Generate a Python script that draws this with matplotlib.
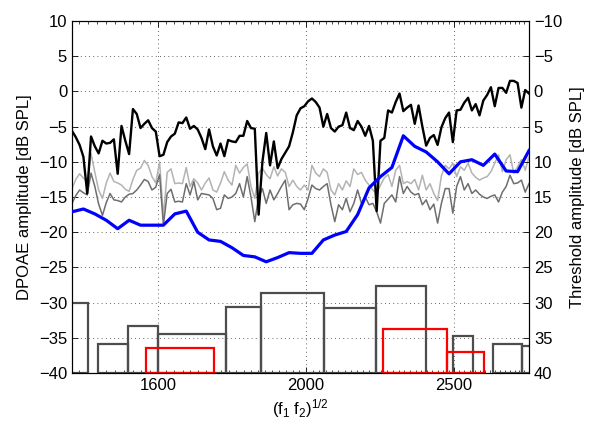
import numpy as np
import matplotlib.pyplot as plt
from matplotlib import ticker

plt.rcParams['font.family'] = ['Liberation Sans', 'DejaVu Sans']
plt.rcParams['font.size'] = 12
plt.rcParams['mathtext.fontset'] = 'custom'
plt.rcParams['mathtext.rm'] = 'Liberation Sans'
plt.rcParams['mathtext.it'] = 'Liberation Sans:italic'
plt.rcParams['mathtext.default'] = 'regular'

# measurement grid, geometric mean frequency (Hz)
freq = np.geomspace(1405, 2800, 121)

# DPOAE level (dB SPL)
dpoae = [-5.6, -6.5, -7.6, -9.3, -14.5, -6.4, -7.8, -8.8, -7.0, -7.4,
         -7.3, -6.8, -11.7, -4.9, -7.0, -8.9, -2.5, -3.2, -5.2, -4.6,
         -4.1, -5.2, -5.7, -9.2, -9.0, -7.2, -6.4, -6.0, -4.4, -4.5,
         -3.7, -5.3, -4.9, -5.4, -6.6, -8.2, -5.4, -7.8, -9.1, -7.4,
         -9.2, -6.9, -7.1, -7.2, -6.3, -6.3, -4.2, -5.2, -5.3, -17.5,
         -10.0, -5.9, -10.5, -7.1, -10.9, -9.6, -8.7, -7.8, -5.8, -3.4,
         -2.4, -2.1, -1.4, -1.0, -1.5, -2.3, -5.0, -3.2, -5.2, -5.7,
         -5.0, -4.8, -3.0, -5.2, -5.5, -4.2, -5.0, -6.3, -4.9, -7.0,
         -17.0, -7.0, -6.6, -2.7, -3.0, -1.5, -0.3, -2.8, -2.3, -1.9,
         -4.6, -2.0, -5.0, -7.7, -6.6, -6.2, -7.6, -5.1, -3.8, -3.0,
         -7.2, -2.7, -2.6, -1.6, -0.9, -2.7, -1.8, -3.4, -1.3, -0.5,
         0.6, -2.1, 0.5, 0.5, -0.2, 1.5, 1.5, 1.2, -2.3, 0.2,
         -0.3]

# noise floor, upper (light gray) and lower (dark gray)
noise_hi = [-13.8, -12.5, -11.7, -12.3, -12.8, -8.8, -11.5, -14.0, -15.2, -13.0,
            -11.6, -12.8, -13.0, -13.3, -13.9, -14.2, -12.5, -11.2, -10.9, -9.8,
            -10.5, -12.1, -13.0, -10.0, -17.8, -11.5, -11.0, -13.1, -13.0, -13.1,
            -10.8, -13.5, -12.4, -13.0, -14.0, -13.0, -12.3, -14.0, -14.3, -13.0,
            -11.4, -12.6, -13.3, -10.5, -11.6, -10.8, -10.3, -13.5, -15.2, -11.6,
            -10.9, -11.8, -12.4, -10.7, -12.0, -11.0, -11.5, -13.5, -12.6, -13.5,
            -14.0, -13.3, -14.0, -10.5, -11.6, -12.1, -11.0, -11.5, -14.0, -14.7,
            -13.1, -14.0, -12.7, -13.5, -11.0, -11.8, -11.5, -12.6, -13.3, -14.0,
            -14.5, -13.3, -12.3, -11.8, -13.5, -11.2, -10.5, -13.1, -12.8, -13.1,
            -12.5, -14.0, -11.9, -14.0, -13.1, -14.5, -15.5, -12.0, -10.5, -11.0,
            -10.2, -12.1, -10.7, -11.2, -10.2, -11.6, -12.2, -12.6, -12.3, -12.1,
            -11.4, -10.2, -9.0, -11.4, -9.7, -9.0, -11.6, -10.7, -9.7, -11.2,
            -9.3]
noise_lo = [-15.9, -14.8, -14.0, -14.4, -14.7, -11.6, -13.5, -16.0, -17.6, -15.8,
            -14.5, -15.4, -15.5, -15.7, -15.0, -14.6, -14.5, -14.0, -13.3, -12.5,
            -12.8, -14.0, -13.6, -11.8, -19.0, -14.5, -13.9, -15.7, -15.6, -15.7,
            -13.1, -14.7, -12.8, -15.4, -14.5, -14.6, -14.7, -15.2, -16.8, -16.6,
            -14.7, -15.2, -15.0, -14.5, -13.1, -15.0, -12.1, -15.0, -18.5, -15.0,
            -13.8, -15.9, -14.0, -15.4, -14.5, -13.5, -12.6, -16.8, -16.1, -15.9,
            -16.0, -16.8, -15.2, -13.3, -13.8, -14.0, -13.5, -13.1, -16.1, -18.5,
            -16.1, -16.8, -15.2, -17.1, -15.9, -14.0, -15.9, -15.0, -16.1, -15.9,
            -17.1, -18.7, -15.9, -15.3, -14.7, -15.7, -12.1, -14.5, -13.5, -14.3,
            -14.7, -14.5, -16.1, -15.4, -16.8, -16.0, -18.7, -15.9, -13.8, -13.8,
            -17.3, -13.5, -12.1, -14.0, -13.1, -14.5, -14.0, -14.6, -15.0, -15.2,
            -14.9, -14.7, -15.7, -14.3, -13.5, -11.9, -13.1, -13.0, -12.6, -14.3,
            -13.1]

# hearing threshold (dB SPL, right axis)
thr_freq = np.geomspace(1405, 2800, 41)
threshold = [17.1, 16.7, 17.4, 18.3, 19.5, 18.3, 19.0, 19.0, 19.0, 17.4,
             17.0, 20.0, 21.1, 21.3, 22.2, 23.3, 23.5, 24.2, 23.6, 22.9,
             23.0, 23.0, 21.1, 20.4, 19.9, 17.5, 13.7, 12.1, 10.8, 6.3,
             7.8, 8.6, 10.0, 11.7, 10.0, 9.7, 10.5, 8.9, 11.3, 11.4,
             8.4]

# fine structure bands (left edge, right edge in Hz, top in dB)
gray_left = [1380, 1462, 1528, 1600, 1772, 1869, 2056, 2222, 2495, 2650, 2769]
gray_right = [1440, 1528, 1600, 1772, 1869, 2056, 2222, 2396, 2574, 2769, 2900]
gray_top = [-30.0, -35.9, -33.3, -34.4, -30.6, -28.6, -30.8, -27.6, -34.7, -35.9, -36.1]
red_left = [1571, 2245, 2474]
red_right = [1742, 2474, 2616]
red_top = [-36.4, -33.8, -37.0]

base = -40

fig = plt.figure(figsize=(5.92, 4.21), dpi=100)
ax = fig.add_axes([0.1216, 0.114, 0.7720, 0.836])
ax.set_xscale('log')

gl = np.array(gray_left); gr = np.array(gray_right)
ax.bar(gl, np.array(gray_top) - base, width=gr - gl, bottom=base, align='edge',
       fill=False, edgecolor='#4d4d4d', lw=1.6, zorder=2)
rl = np.array(red_left); rr = np.array(red_right)
ax.bar(rl, np.array(red_top) - base, width=rr - rl, bottom=base, align='edge',
       fill=False, edgecolor='#ff0000', lw=1.6, zorder=3)

ax.plot(freq, noise_hi, color='#b3b3b3', lw=1.1, zorder=3)
ax.plot(freq, noise_lo, color='#6e6e6e', lw=1.1, zorder=3)
ax.plot(freq, dpoae, color='k', lw=1.7, zorder=4)

ax.set_xlim(1405, 2800)
ax.set_ylim(-40, 10)
ax.set_yticks(np.arange(-40, 11, 5))
ax.xaxis.set_major_locator(ticker.FixedLocator([1600, 2000, 2500]))
ax.xaxis.set_major_formatter(ticker.FixedFormatter(['1600', '2000', '2500']))
ax.xaxis.set_minor_locator(ticker.MultipleLocator(20))
ax.xaxis.set_minor_formatter(ticker.NullFormatter())
ax.tick_params(axis='both', which='both', direction='in', top=True)
ax.tick_params(which='major', length=4.5, width=0.6)
ax.tick_params(which='minor', length=2.2, width=0.5)
ax.grid(True, which='major', linestyle=(0, (1, 4)), color='#333333', lw=0.6)
ax.set_ylabel('DPOAE amplitude [dB SPL]', labelpad=5)
ax.set_xlabel('(f$_1$ f$_2$)$^{1/2}$', labelpad=3)

ax2 = ax.twinx()
ax2.plot(thr_freq, threshold, color='#0000ff', lw=2.3, zorder=5)
ax2.set_ylim(40, -10)
ax2.set_yticks(np.arange(-10, 41, 5))
ax2.tick_params(axis='y', direction='in', length=4.5, width=0.6)
ax2.set_ylabel('Threshold amplitude [dB SPL]', labelpad=6)
for a in (ax, ax2):
    for s in a.spines.values():
        s.set_linewidth(0.8)

fig.savefig('out.png', dpi=100)
